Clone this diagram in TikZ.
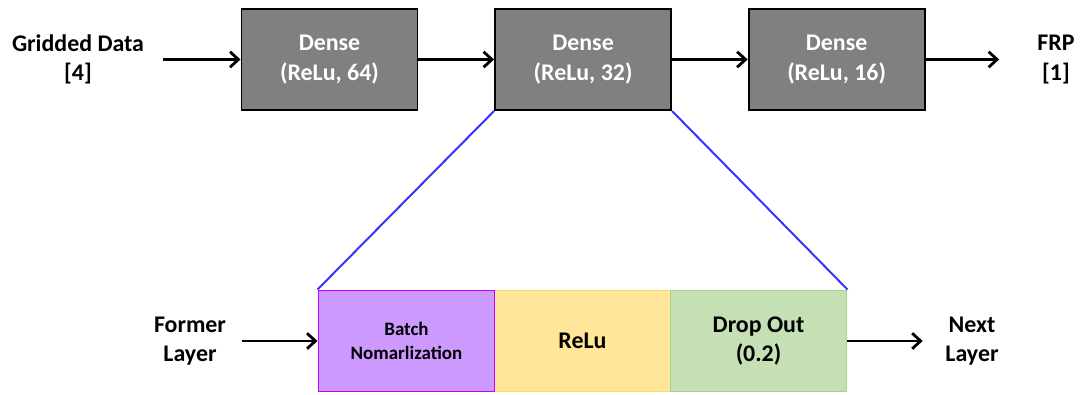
\documentclass[tikz,border=0pt]{standalone}
\usepackage{fontspec}
\setmainfont{Carlito}
\usepackage{xcolor}
\usetikzlibrary{arrows.meta, positioning}
\definecolor{batchfill}{HTML}{CC99FF}
\definecolor{batchline}{HTML}{CC00FF}
\definecolor{relufill}{HTML}{FFE699}
\definecolor{reluline}{HTML}{FFD966}
\definecolor{dropfill}{HTML}{C5E0B4}
\definecolor{dropline}{HTML}{A9D18E}
\definecolor{zoomline}{HTML}{3333FF}
\tikzset{
    baseblock/.style={rectangle, text centered, align=center, font=\fontsize{17}{21}\selectfont\bfseries, minimum width=4.4cm, minimum height=2.525cm, inner sep=2pt},
    denseblock/.style={baseblock, draw=black, line width=1.4pt, fill=black!50, text=white},
    batchblock/.style={baseblock, draw=batchline, line width=1.4pt, fill=batchfill, font=\fontsize{13.5}{17}\selectfont\bfseries},
    relublock/.style={baseblock, draw=reluline, line width=1.4pt, fill=relufill},
    dropblock/.style={baseblock, draw=dropline, line width=1.4pt, fill=dropfill},
    label/.style={align=center, font=\fontsize{17}{21}\selectfont\bfseries, inner xsep=8pt},
    arrow/.style={line width=2pt, -{Straight Barb[length=6pt, width=11pt, line width=2pt]}, color=black},
    zoom/.style={line width=1.4pt, color=zoomline}
}
\begin{document}
\begin{tikzpicture}[node distance=1.89cm]
    \useasboundingbox (0,0) rectangle (27.1,-9.875);

    % top row
    \node (dense1) [denseblock] at (8.2375,-1.4875) {Dense\\(ReLu, 64)};
    \node (dense2) [denseblock, right=of dense1] {Dense\\(ReLu, 32)};
    \node (dense3) [denseblock, right=of dense2] {Dense\\(ReLu, 16)};
    \node (input) [label, inner xsep=13pt] at (1.95,-1.4875) {Gridded Data\\{[4]}};
    \node (output) [label, inner xsep=27pt] at (26.4,-1.4875) {FRP\\{[1]}};

    \draw [arrow] (input) -- (dense1);
    \draw [arrow] (dense1) -- (dense2);
    \draw [arrow] (dense2) -- (dense3);
    \draw [arrow] (dense3) -- (output);

    % expanded layer
    \node (relu) [relublock] at (14.5625,-8.525) {ReLu};
    \node (batch) [batchblock, left=-1.4pt of relu] {Batch\\Nomarlization};
    \node (drop) [dropblock, right=-1.4pt of relu] {Drop Out\\(0.2)};
    \node (former) [label, inner xsep=11pt] at (4.75,-8.525) {Former\\Layer};
    \node (next) [label, inner xsep=16pt] at (24.3,-8.525) {Next\\Layer};

    \draw [arrow] (former) -- (batch);
    \draw [arrow] (drop) -- (next);

    \draw [zoom] (dense2.south west) -- (batch.north west);
    \draw [zoom] (dense2.south east) -- (drop.north east);
\end{tikzpicture}
\end{document}
